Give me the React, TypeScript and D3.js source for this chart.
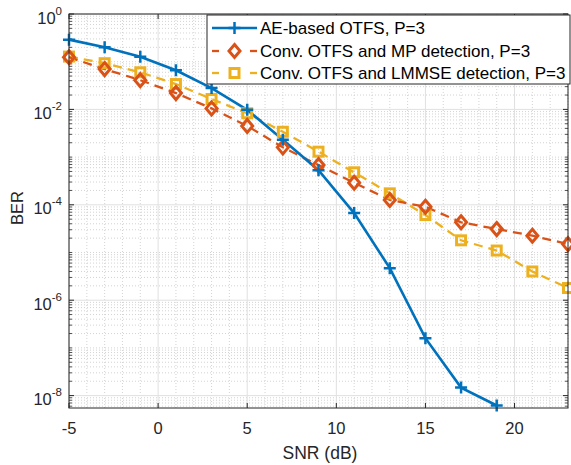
import React from "react";
import * as d3 from "d3";

const snrAE = [-5, -3, -1, 1, 3, 5, 7, 9, 11, 13, 15, 17, 19];
const berAE = [0.29, 0.2, 0.127, 0.066, 0.028, 0.0098, 2.3e-3, 5.3e-4, 6.7e-5, 4.7e-6, 1.6e-7, 1.47e-8, 6.2e-9];
const snrConv = [-5, -3, -1, 1, 3, 5, 7, 9, 11, 13, 15, 17, 19, 21, 23];
const berMP = [0.124, 0.07, 0.041, 0.022, 0.0105, 4.5e-3, 1.6e-3, 6.8e-4, 2.9e-4, 1.26e-4, 9.1e-5, 4.3e-5, 3.1e-5, 2.25e-5, 1.5e-5];
const berLMMSE = [0.128, 0.093, 0.06, 0.034, 0.0165, 8.3e-3, 3.4e-3, 1.3e-3, 4.8e-4, 1.74e-4, 6.1e-5, 1.8e-5, 1.1e-5, 4e-6, 1.8e-6];
const xTicks = [-5, 0, 5, 10, 15, 20];
const yTickExps = [0, -2, -4, -6, -8];
const legendLabels = [
  "AE-based OTFS, P=3",
  "Conv. OTFS and MP detection, P=3",
  "Conv. OTFS and LMMSE detection, P=3",
];

const W = 571, H = 465;
const L = 69, R = 568, T = 14, B = 408;
const BLUE = "#0072BD", ORANGE = "#D95319", YELLOW = "#EDB120";
const FONT = "'Liberation Sans', Arial, Helvetica, sans-serif";

export default function App() {
  const x = d3.scaleLinear().domain([-5, 23]).range([L, R]);
  const y = d3.scaleLog().domain([Math.pow(10, -8.26), 1]).range([B, T]);
  const line = d3.line<[number, number]>().x(d => x(d[0])).y(d => y(d[1]));

  const aePts: [number, number][] = snrAE.map((s, i) => [s, berAE[i]]);
  const mpPts: [number, number][] = snrConv.map((s, i) => [s, berMP[i]]);
  const lmPts: [number, number][] = snrConv.map((s, i) => [s, berLMMSE[i]]);

  const minorY: number[] = [];
  for (let e = -9; e <= 0; e++) {
    for (let k = 1; k <= 9; k++) {
      const v = k * Math.pow(10, e);
      if (v <= 1 && v >= Math.pow(10, -8.26)) {
        if (!(k === 1 && e % 2 === 0)) minorY.push(v);
      }
    }
  }
  const minorX: number[] = d3.range(-5, 24, 1).filter(v => v % 5 !== 0);

  const plus = (cx: number, cy: number, c: string, key: any) => (
    <path key={key} d={`M${cx - 6},${cy}H${cx + 6}M${cx},${cy - 6}V${cy + 6}`} stroke={c} strokeWidth={2.5} fill="none" />
  );
  const diamond = (cx: number, cy: number, c: string, key: any) => (
    <path key={key} d={`M${cx},${cy - 6.5}L${cx + 5.5},${cy}L${cx},${cy + 6.5}L${cx - 5.5},${cy}Z`} stroke={c} strokeWidth={3} fill="none" />
  );
  const square = (cx: number, cy: number, c: string, key: any) => (
    <rect key={key} x={cx - 4.5} y={cy - 4.5} width={9} height={9} stroke={c} strokeWidth={3} fill="none" />
  );

  const legX = 207, legY = 15, legW = 363, legH = 69;
  const rows = [28, 51, 73];

  return (
    <svg width={W} height={H} style={{ position: "absolute", left: 0, top: 0, background: "#fff" }} fontFamily={FONT}>
      <rect x={0} y={0} width={W} height={H} fill="#fff" />
      {minorX.map(v => (
        <line key={"mx" + v} x1={x(v)} x2={x(v)} y1={T} y2={B} stroke="#c8c8c8" strokeWidth={0.8} strokeDasharray="1,2" />
      ))}
      {minorY.map((v, i) => (
        <line key={"my" + i} x1={L} x2={R} y1={y(v)} y2={y(v)} stroke="#c8c8c8" strokeWidth={0.8} strokeDasharray="1,2" />
      ))}
      {xTicks.map(v => (
        <line key={"gx" + v} x1={x(v)} x2={x(v)} y1={T} y2={B} stroke="#e0e0e0" strokeWidth={1} />
      ))}
      {yTickExps.map(e => (
        <line key={"gy" + e} x1={L} x2={R} y1={y(Math.pow(10, e))} y2={y(Math.pow(10, e))} stroke="#e0e0e0" strokeWidth={1} />
      ))}
      {xTicks.map(v => (
        <g key={"tx" + v}>
          <line x1={x(v)} x2={x(v)} y1={B} y2={B - 5} stroke="#262626" />
          <line x1={x(v)} x2={x(v)} y1={T} y2={T + 5} stroke="#262626" />
          <text x={x(v)} y={434} textAnchor="middle" fontSize={16.5} fill="#262626">{v}</text>
        </g>
      ))}
      {minorY.map((v, i) => (
        <g key={"mty" + i}>
          <line x1={L} x2={L + 3} y1={y(v)} y2={y(v)} stroke="#262626" strokeWidth={0.8} />
          <line x1={R} x2={R - 3} y1={y(v)} y2={y(v)} stroke="#262626" strokeWidth={0.8} />
        </g>
      ))}
      {yTickExps.map(e => (
        <g key={"ty" + e}>
          <line x1={L} x2={L + 5} y1={y(Math.pow(10, e))} y2={y(Math.pow(10, e))} stroke="#262626" />
          <line x1={R} x2={R - 5} y1={y(Math.pow(10, e))} y2={y(Math.pow(10, e))} stroke="#262626" />
          <text x={62} y={y(Math.pow(10, e)) + 9.5} textAnchor="end" fontSize={16.5} fill="#262626">
            10<tspan dy={-9} fontSize={11.5}>{e}</tspan>
          </text>
        </g>
      ))}
      <path d={line(lmPts) || ""} stroke={YELLOW} strokeWidth={2.3} fill="none" strokeDasharray="9,6" />
      <path d={line(mpPts) || ""} stroke={ORANGE} strokeWidth={2.3} fill="none" strokeDasharray="9,6" />
      <path d={line(aePts) || ""} stroke={BLUE} strokeWidth={2.6} fill="none" />
      {lmPts.map((p, i) => square(x(p[0]), y(p[1]), YELLOW, "s" + i))}
      {mpPts.map((p, i) => diamond(x(p[0]), y(p[1]), ORANGE, "d" + i))}
      {aePts.map((p, i) => plus(x(p[0]), y(p[1]), BLUE, "p" + i))}
      <rect x={L} y={T} width={R - L} height={B - T} fill="none" stroke="#262626" strokeWidth={1} />
      <rect x={legX} y={legY} width={legW} height={legH} fill="#fff" stroke="#262626" strokeWidth={1} />
      {legendLabels.map((lab, i) => {
        const cy = rows[i];
        const c = [BLUE, ORANGE, YELLOW][i];
        return (
          <g key={"leg" + i}>
            {i === 0 ? (
              <line x1={212} x2={257} y1={cy} y2={cy} stroke={c} strokeWidth={2.6} />
            ) : (
              <g>
                <line x1={212} x2={219} y1={cy} y2={cy} stroke={c} strokeWidth={2.3} />
                <line x1={250} x2={257} y1={cy} y2={cy} stroke={c} strokeWidth={2.3} />
              </g>
            )}
            {i === 0 ? plus(234.5, cy, c, "lp") : i === 1 ? diamond(234.5, cy, c, "ld") : square(234.5, cy, c, "ls")}
            <text x={260} y={cy + 6} fontSize={17} fill="#000">{lab}</text>
          </g>
        );
      })}
      <text x={320} y={459} textAnchor="middle" fontSize={17.5} fill="#262626">SNR (dB)</text>
      <text transform={`translate(23,208) rotate(-90)`} textAnchor="middle" fontSize={16.5} fill="#262626">BER</text>
    </svg>
  );
}
